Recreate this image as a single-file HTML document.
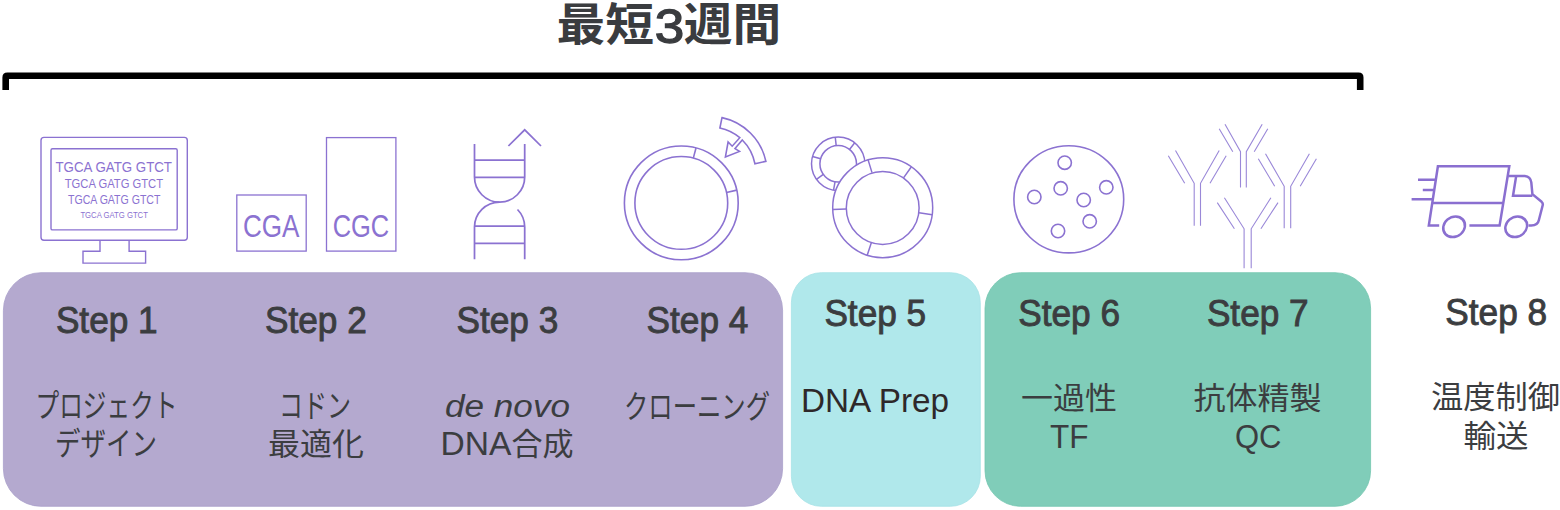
<!DOCTYPE html>
<html lang="ja">
<head>
<meta charset="utf-8">
<title>最短3週間</title>
<style>
html,body{margin:0;padding:0;background:#fff;}
body{width:1560px;height:510px;overflow:hidden;position:relative;}
svg{position:absolute;left:0;top:0;display:block;}
.lat{font-family:"Liberation Sans",sans-serif;}
.jp{font-family:"Liberation Sans","Noto Sans CJK JP",sans-serif;}
.step{font-family:"Liberation Sans",sans-serif;font-size:36px;fill:#3b3d40;stroke:#3b3d40;stroke-width:0.9px;}
.desc{font-family:"Liberation Sans","Noto Sans CJK JP",sans-serif;font-size:32px;fill:#3b3d40;}
.kj{font-size:30.5px;}
.ic{fill:none;stroke:#8b72d1;stroke-width:1.5;stroke-linecap:butt;stroke-linejoin:miter;}
.ict{font-family:"Liberation Sans",sans-serif;fill:#8b72d1;}
</style>
</head>
<body>
<svg width="1560" height="510" viewBox="0 0 1560 510">
<!-- panels -->
<rect x="3.4" y="272.7" width="779.2" height="233.6" rx="37.6" ry="37.6" fill="#b4a9cf" stroke="#aaa0ca" stroke-width="0.8"/>
<rect x="791.4" y="272.7" width="188.9" height="233.6" rx="30" ry="30" fill="#b0e8eb" stroke="#a6e2e6" stroke-width="0.8"/>
<rect x="985" y="272.7" width="385.6" height="233.6" rx="35.6" ry="35.6" fill="#80cdb9" stroke="#72c5af" stroke-width="0.8"/>

<!-- bracket -->
<path d="M2.4 90 V77.4 Q2.4 72.4 7.4 72.4 H1358.5 Q1363.5 72.4 1363.5 77.4 V90 H1356.9 V79 H9 V90 Z" fill="#000"/>

<!-- title -->
<g style="font-family:'Liberation Sans','Noto Sans CJK JP',sans-serif;fill:#3a3c3f">
<text id="t1" x="556.6" y="41.1" style="font-weight:700;font-size:45.5px" textLength="97.5" lengthAdjust="spacingAndGlyphs">最短</text>
<text id="t2" x="654.8" y="42.7" style="font-weight:400;font-size:48px;stroke:#3a3c3f;stroke-width:1.3px" textLength="29.5" lengthAdjust="spacingAndGlyphs">3</text>
<text id="t3" x="683.7" y="41.1" style="font-weight:700;font-size:45.5px" textLength="97.5" lengthAdjust="spacingAndGlyphs">週間</text>
</g>

<!-- step labels -->
<text id="s1" class="step" x="55.9" y="332.8" textLength="101.8" lengthAdjust="spacingAndGlyphs">Step 1</text>
<text id="s2" class="step" x="265" y="332.8" textLength="101.8" lengthAdjust="spacingAndGlyphs">Step 2</text>
<text id="s3" class="step" x="456.5" y="332.8" textLength="101.8" lengthAdjust="spacingAndGlyphs">Step 3</text>
<text id="s4" class="step" x="646.6" y="332.8" textLength="101.8" lengthAdjust="spacingAndGlyphs">Step 4</text>
<text id="s5" class="step" x="824.4" y="325.5" textLength="101.8" lengthAdjust="spacingAndGlyphs">Step 5</text>
<text id="s6" class="step" x="1018.2" y="325.5" textLength="101.8" lengthAdjust="spacingAndGlyphs">Step 6</text>
<text id="s7" class="step" x="1206.9" y="325.5" textLength="101.8" lengthAdjust="spacingAndGlyphs">Step 7</text>
<text id="s8" class="step" x="1445.3" y="324.5" textLength="101.8" lengthAdjust="spacingAndGlyphs">Step 8</text>

<!-- descriptions -->
<text id="d1a" class="desc" x="35.5" y="417.3" textLength="142" lengthAdjust="spacingAndGlyphs">プロジェクト</text>
<text id="d1b" class="desc" x="55" y="455.3" textLength="102" lengthAdjust="spacingAndGlyphs">デザイン</text>
<text id="d2a" class="desc" x="279" y="417.3" textLength="72" lengthAdjust="spacingAndGlyphs">コドン</text>
<text id="d2b" class="desc kj" x="268" y="455" textLength="96" lengthAdjust="spacingAndGlyphs">最適化</text>
<text id="d3a" class="desc" x="445" y="416.5" textLength="125" lengthAdjust="spacingAndGlyphs" style="font-style:italic;font-size:31px">de novo</text>
<text id="d3b" class="desc" x="440.5" y="454.7" textLength="133" lengthAdjust="spacingAndGlyphs"><tspan style="font-size:33px">DNA</tspan><tspan style="font-size:30.5px">合成</tspan></text>
<text id="d4a" class="desc" x="624" y="417.5" textLength="146" lengthAdjust="spacingAndGlyphs">クローニング</text>
<text id="d5a" class="desc" x="801" y="412.2" textLength="148" lengthAdjust="spacingAndGlyphs" style="fill:#2e282a;font-size:34px">DNA Prep</text>
<text id="d6a" class="desc kj" x="1021" y="409.2" textLength="96" lengthAdjust="spacingAndGlyphs">一過性</text>
<text id="d6b" class="desc" x="1050" y="447.8" textLength="38.5" lengthAdjust="spacingAndGlyphs" style="font-size:34px">TF</text>
<text id="d7a" class="desc kj" x="1193.5" y="409.2" textLength="128" lengthAdjust="spacingAndGlyphs">抗体精製</text>
<text id="d7b" class="desc" x="1235" y="447.8" textLength="46.5" lengthAdjust="spacingAndGlyphs" style="font-size:34px">QC</text>
<text id="d8a" class="desc kj" x="1431" y="407.6" textLength="129" lengthAdjust="spacingAndGlyphs">温度制御</text>
<text id="d8b" class="desc kj" x="1463.5" y="447" textLength="65" lengthAdjust="spacingAndGlyphs">輸送</text>

<!-- icon 1: monitor -->
<g class="ic" style="stroke-width:1.4">
<rect x="41" y="137.4" width="146.3" height="102.9" rx="3" ry="3"/>
<rect x="51" y="148.7" width="126.2" height="81.2" rx="1.5" ry="1.5"/>
<path d="M100 240.3 V251.3 H83 V263.1 H145.6 V251.3 H129.1 V240.3"/>
</g>
<text id="m1" class="ict" x="55.5" y="172" font-size="14.9" textLength="116.5" lengthAdjust="spacingAndGlyphs">TGCA GATG GTCT</text>
<text id="m2" class="ict" x="64.7" y="187.6" font-size="12.6" textLength="98.4" lengthAdjust="spacingAndGlyphs">TGCA GATG GTCT</text>
<text id="m3" class="ict" x="68" y="204.1" font-size="12.6" textLength="92.4" lengthAdjust="spacingAndGlyphs">TGCA GATG GTCT</text>
<text id="m4" class="ict" x="80.4" y="217.5" font-size="8.8" textLength="67.5" lengthAdjust="spacingAndGlyphs">TGCA GATG GTCT</text>

<!-- icon 2: codon boxes -->
<g class="ic" style="stroke-width:1.3">
<rect x="236.8" y="195" width="69.4" height="56.1"/>
<rect x="326.5" y="137.6" width="69.4" height="113.5"/>
</g>
<text id="c1" class="ict" x="243" y="237" font-size="30.5" textLength="56.5" lengthAdjust="spacingAndGlyphs">CGA</text>
<text id="c2" class="ict" x="332.7" y="237" font-size="30.5" textLength="56.5" lengthAdjust="spacingAndGlyphs">CGC</text>

<!-- icon 3: DNA -->
<g class="ic" style="stroke-width:1.75">
<path d="M474.5 144 V177 A25.1 25.1 0 0 0 524.7 177 V144"/>
<path d="M474.5 259.3 V227 A25.1 25.1 0 0 1 499.6 202"/>
<path d="M524.7 259.3 V227 A25.1 25.1 0 0 0 517.5 209.5"/>
<path d="M474.5 160.2 H524.7 M474.5 177.4 H524.7 M474.5 226 H524.7 M474.5 243.3 H524.7"/>
<path d="M508.4 146 L524.7 129.8 L541 146"/>
</g>

<!-- icon 4: cloning ring -->
<g class="ic" style="stroke-width:1.6">
<circle cx="681.3" cy="202.9" r="56.9"/>
<circle cx="681.3" cy="202.9" r="46.4"/>
<path d="M693.3 158.1 L696 148 M726.5 192.5 L736.8 190.1"/>
<path d="M722 117.6 A57 57 0 0 1 765.9 161.3 L754.9 163.7 A45.7 45.7 0 0 0 742.3 140 L735 148.6 L739.5 151.4 L725.4 156.9 L728.1 142 L732.2 146.2 L739.8 137.7 A45.7 45.7 0 0 0 719.9 128 Z"/>
</g>

<!-- icon 5: plasmid prep -->
<g class="ic" style="stroke-width:1.5">
<circle cx="838.2" cy="163.8" r="26.7"/>
<circle cx="838.2" cy="163.8" r="18.3"/>
<path d="M836.19 145.61 L835.27 137.26 M849.52 149.42 L854.71 142.82 M820.61 158.76 L812.53 156.44 M823.30 174.43 L816.46 179.30 M835.02 181.82 L833.56 190.09"/>
<circle cx="882.7" cy="207.7" r="50" fill="#fff"/>
<circle cx="882.7" cy="208" r="36.4"/>
<path d="M872 172.6 L868.1 159.9 M903.7 177.6 L911.4 166.7 M919 212.8 L932.2 214.7 M871.4 242.6 L867.2 255.2 M846 209 L832.7 209.4"/>
</g>

<!-- icon 6: dish -->
<g class="ic" style="stroke-width:1.6">
<ellipse cx="1068.8" cy="199.3" rx="54.9" ry="53.6"/>
<circle cx="1064.7" cy="162.7" r="6.7"/>
<circle cx="1060.7" cy="188.3" r="6.7"/>
<circle cx="1034.3" cy="197" r="6.7"/>
<circle cx="1083.7" cy="200" r="6.7"/>
<circle cx="1106.3" cy="187.3" r="6.7"/>
<circle cx="1089.7" cy="221.3" r="6.7"/>
<circle cx="1058" cy="231" r="6.7"/>
</g>

<!-- icon 7: antibodies -->
<g class="ic" style="stroke-width:1.1;stroke:#9a88d8">
<path d="M1194.2 225.7 V183.3 L1175.5 150.5 M1200.5 225.7 V183.3 L1219.2 150.5 M1184.7 183.3 L1168.3 155.8 M1210 183.3 L1226.2 155.8"/>
<path d="M1240.5 187.5 V151.7 L1225 124.2 M1246.3 187.5 V151.7 L1262.2 124.2 M1232.8 151.7 L1219.2 128.7 M1254.2 151.7 L1267.8 128.7"/>
<path d="M1284.2 228.2 V186.3 L1265.5 153.7 M1290.7 228.2 V186.3 L1309.4 153.7 M1274.7 186.3 L1258.3 158.8 M1300.2 186.3 L1316.4 158.8"/>
<path d="M1244.1 268.3 V228.8 L1224.4 197.7 M1251.2 268.3 V228.8 L1270.9 197.7 M1234.4 228.8 L1217.3 202.6 M1260.9 228.8 L1278 202.6"/>
</g>

<!-- icon 8: truck -->
<g class="ic" style="stroke-width:2.5;stroke:#8a6fd0">
<path d="M1439.2 225.5 H1428.8 L1437.9 166.2 H1509.3 L1499.6 225.5 H1469.4"/>
<path d="M1432.5 202.9 H1502.8"/>
<ellipse cx="1454.1" cy="226.8" rx="10.8" ry="10.3" transform="translate(1454.1 226.8) skewX(-8) translate(-1454.1 -226.8)"/>
<ellipse cx="1516.2" cy="226.8" rx="10.8" ry="10.3" transform="translate(1516.2 226.8) skewX(-8) translate(-1516.2 -226.8)"/>
<path d="M1508.2 175.9 H1524.8 Q1530.5 176.5 1531.3 182.4 L1532.4 194.2 L1541.6 201.8 Q1543.2 203.3 1542.7 205.3 L1538.9 220 Q1537.8 225.5 1531.3 225.5 H1528.5"/>
<path d="M1516.2 175.9 L1513 195.7 H1532.4"/>
<path d="M1418 179.8 H1436.4 M1422.8 189.9 H1434.7 M1411.6 199.2 H1433.1"/>
</g>
</svg>
</body>
</html>
